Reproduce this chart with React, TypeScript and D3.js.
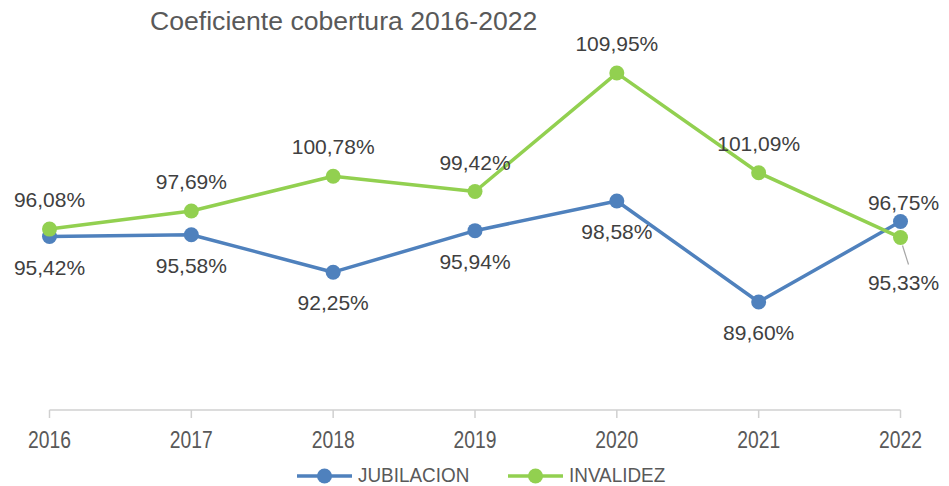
import React from "react";
import * as d3 from "d3";

const years = ["2016", "2017", "2018", "2019", "2020", "2021", "2022"];
const jubilacion = [95.42, 95.58, 92.25, 95.94, 98.58, 89.6, 96.75];
const invalidez = [96.08, 97.69, 100.78, 99.42, 109.95, 101.09, 95.33];
// label placement: 1 = above, -1 = below
const jubPos = [-1, -1, -1, -1, -1, -1, 1];
const invPos = [1, 1, 1, 1, 1, 1, -1];
const seriesNames = ["JUBILACION", "INVALIDEZ"];
const colors = ["#4f81bd", "#92d050"];
const title = "Coeficiente cobertura 2016-2022";

const W = 949;
const H = 486;

export default function App() {
  const x = d3.scalePoint<string>().domain(years).range([49.5, 900.5]);
  const y = d3.scaleLinear().domain([80, 110]).range([410, 72.5]);
  const line = d3
    .line<number>()
    .x((_, i) => x(years[i])!)
    .y((d) => y(d));
  const fmt = (v: number) => v.toFixed(2).replace(".", ",") + "%";
  const labelFont = "'Liberation Sans', Arial, sans-serif";
  const narrowScale = 0.84;
  const legendScale = 0.9;

  const series = [
    { name: seriesNames[0], data: jubilacion, pos: jubPos, color: colors[0] },
    { name: seriesNames[1], data: invalidez, pos: invPos, color: colors[1] },
  ];

  return (
    <svg width={W} height={H} style={{ position: "absolute", left: 0, top: 0, background: "#fff" }}>
      <rect width={W} height={H} fill="#fff" />
      <text x={150} y={30} fontFamily={labelFont} fontSize={26.6} fill="#595959">
        {title}
      </text>
      {/* axis */}
      <line x1={x(years[0])} x2={x(years[years.length - 1])} y1={410} y2={410} stroke="#d0d0d0" strokeWidth={1.5} />
      {years.map((yr) => (
        <g key={yr}>
          <line x1={x(yr)} x2={x(yr)} y1={410} y2={418} stroke="#d0d0d0" strokeWidth={1.5} />
          <g transform={`translate(${x(yr)},448) scale(${narrowScale},1)`}>
            <text x={0} y={0} textAnchor="middle" fontFamily={labelFont} fontSize={23} fill="#595959">
              {yr}
            </text>
          </g>
        </g>
      ))}
      {/* lines */}
      {series.map((s) => (
        <path key={s.name + "l"} d={line(s.data)!} fill="none" stroke={s.color} strokeWidth={3.5} strokeLinejoin="round" />
      ))}
      {series.map((s) => (
        <g key={s.name + "m"}>
          {s.data.map((v, i) => (
            <circle key={i} cx={x(years[i])} cy={y(v)} r={7.5} fill={s.color} />
          ))}
        </g>
      ))}
      {/* leader line for 2022 invalidez */}
      <line
        x1={x("2022")! + 2}
        y1={y(invalidez[6]) + 8}
        x2={x("2022")! + 8}
        y2={y(invalidez[6]) + 27}
        stroke="#a6a6a6"
        strokeWidth={1.2}
      />
      {series.map((s) => (
        <g key={s.name + "t"}>
          {s.data.map((v, i) => {
            let lx = x(years[i])!;
            let ly = s.pos[i] > 0 ? y(v) - 22 : y(v) + 38;
            if (s.name === "INVALIDEZ" && i === 6) {
              lx = x(years[i])! + 3;
              ly = y(v) + 52;
            }
            if (s.name === "JUBILACION" && i === 6) {
              lx = x(years[i])! + 3;
              ly = y(v) - 12;
            }
            if (i === 0) lx = Math.max(lx, 48);
            return (
              <text key={i} x={lx} y={ly} textAnchor="middle" fontFamily={labelFont} fontSize={21} fill="#404040">
                {fmt(v)}
              </text>
            );
          })}
        </g>
      ))}
      {/* legend */}
      {series.map((s, i) => {
        const lx = i === 0 ? 297 : 508;
        return (
          <g key={s.name + "lg"}>
            <line x1={lx} x2={lx + 55} y1={476} y2={476} stroke={s.color} strokeWidth={3.5} />
            <circle cx={lx + 27.5} cy={476} r={7.5} fill={s.color} />
            <g transform={`translate(${lx + 61},482) scale(${legendScale},1)`}>
              <text x={0} y={0} fontFamily={labelFont} fontSize={21} fill="#595959">
                {s.name}
              </text>
            </g>
          </g>
        );
      })}
    </svg>
  );
}
